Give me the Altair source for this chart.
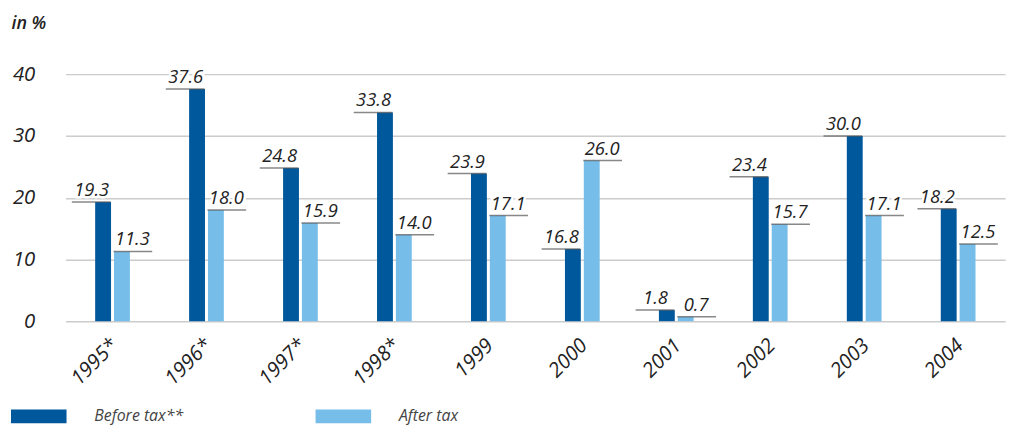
import altair as alt
import pandas as pd

years = ["1995*", "1996*", "1997*", "1998*", "1999", "2000", "2001", "2002", "2003", "2004"]
before_tax = [19.3, 37.6, 24.8, 33.8, 23.9, 11.7, 1.8, 23.4, 30.0, 18.2]
before_tax_labels = ["19.3", "37.6", "24.8", "33.8", "23.9", "16.8", "1.8", "23.4", "30.0", "18.2"]
after_tax = [11.3, 18.0, 15.9, 14.0, 17.1, 26.0, 0.7, 15.7, 17.1, 12.5]
after_tax_labels = ["11.3", "18.0", "15.9", "14.0", "17.1", "26.0", "0.7", "15.7", "17.1", "12.5"]
series = ["Before tax**", "After tax"]
y_ticks = [0, 10, 20, 30, 40]

DARK = "#00589C"
LIGHT = "#76BDE9"
FONT = "Open Sans"
TXT = "#222222"

df = pd.DataFrame({
    "year": years,
    "before": before_tax,
    "before_label": before_tax_labels,
    "after": after_tax,
    "after_label": after_tax_labels,
})

x_enc = alt.X(
    "year:N",
    sort=years,
    scale=alt.Scale(range=[18, 965], paddingInner=0, paddingOuter=0),
    axis=alt.Axis(
        title=None, ticks=False, domain=False, grid=False,
        labelAngle=-45, labelAlign="right", labelBaseline="middle",
        labelPadding=21, labelFont=FONT, labelFontSize=20.5,
        labelFontStyle="italic", labelColor=TXT, labelOffset=2,
    ),
)

y_scale = alt.Scale(domain=[0, 40], nice=False)
y_axis = alt.Axis(
    values=y_ticks, title="in %", titleAngle=0, titleX=-37, titleY=-46,
    titleAlign="left", titleBaseline="alphabetic", titleFont=FONT,
    titleFontSize=18, titleFontStyle="italic", titleFontWeight=600, titleColor=TXT,
    ticks=False, domain=False, grid=True, gridColor="#cccccc", gridWidth=1.5,
    labelPadding=13, labelFont=FONT, labelFontSize=20.5, labelFontStyle="italic",
    labelColor=TXT,
)

color_scale = alt.Scale(domain=series, range=[DARK, LIGHT])
legend = alt.Legend(
    orient="none", legendX=-37, legendY=317, direction="horizontal", title=None,
    symbolType="M-1,-0.25H1V0.25H-1Z", symbolSize=3136, symbolStrokeWidth=0,
    symbolOpacity=1, labelFont=FONT, labelFontSize=16, labelFontStyle="italic",
    labelColor="#444444", labelOffset=28, columnPadding=133,
)

base = alt.Chart(df)

bars_before = base.transform_calculate(series="'Before tax**'").mark_bar(
    width=16, xOffset=-9.5
).encode(
    x=x_enc,
    y=alt.Y("before:Q", scale=y_scale, axis=y_axis),
    color=alt.Color("series:N", scale=color_scale, legend=legend),
)
bars_after = base.transform_calculate(series="'After tax'").mark_bar(
    width=16, xOffset=9.5
).encode(
    x=x_enc,
    y=alt.Y("after:Q", scale=y_scale),
    color=alt.Color("series:N", scale=color_scale, legend=legend),
)

lead_before = base.mark_tick(size=39, thickness=1.5, xOffset=-21.5, color="#555555").encode(
    x=x_enc, y=alt.Y("before:Q", scale=y_scale)
)
lead_after = base.mark_tick(size=39, thickness=1.5, xOffset=20.5, color="#555555").encode(
    x=x_enc, y=alt.Y("after:Q", scale=y_scale)
)

def labels(field, label_field, dx):
    halo = base.mark_text(
        font=FONT, fontSize=18.5, fontStyle="italic", baseline="alphabetic",
        align="center", dy=-6, xOffset=dx, stroke="white", strokeWidth=5,
        color="white",
    ).encode(x=x_enc, y=alt.Y(f"{field}:Q", scale=y_scale), text=f"{label_field}:N")
    txt = base.mark_text(
        font=FONT, fontSize=18.5, fontStyle="italic", baseline="alphabetic",
        align="center", dy=-6, xOffset=dx, color=TXT,
    ).encode(x=x_enc, y=alt.Y(f"{field}:Q", scale=y_scale), text=f"{label_field}:N")
    return [halo, txt]

layers = [bars_before, bars_after, lead_before, lead_after]
layers += labels("before", "before_label", -21)
layers += labels("after", "after_label", 20)

chart = alt.layer(*layers).properties(
    width=972, height=249, autosize="none",
    padding={"left": 40, "top": 65, "right": 8, "bottom": 104},
).configure_view(stroke=None)

chart.save("out.html", embed_options={"renderer": "svg", "actions": False})
